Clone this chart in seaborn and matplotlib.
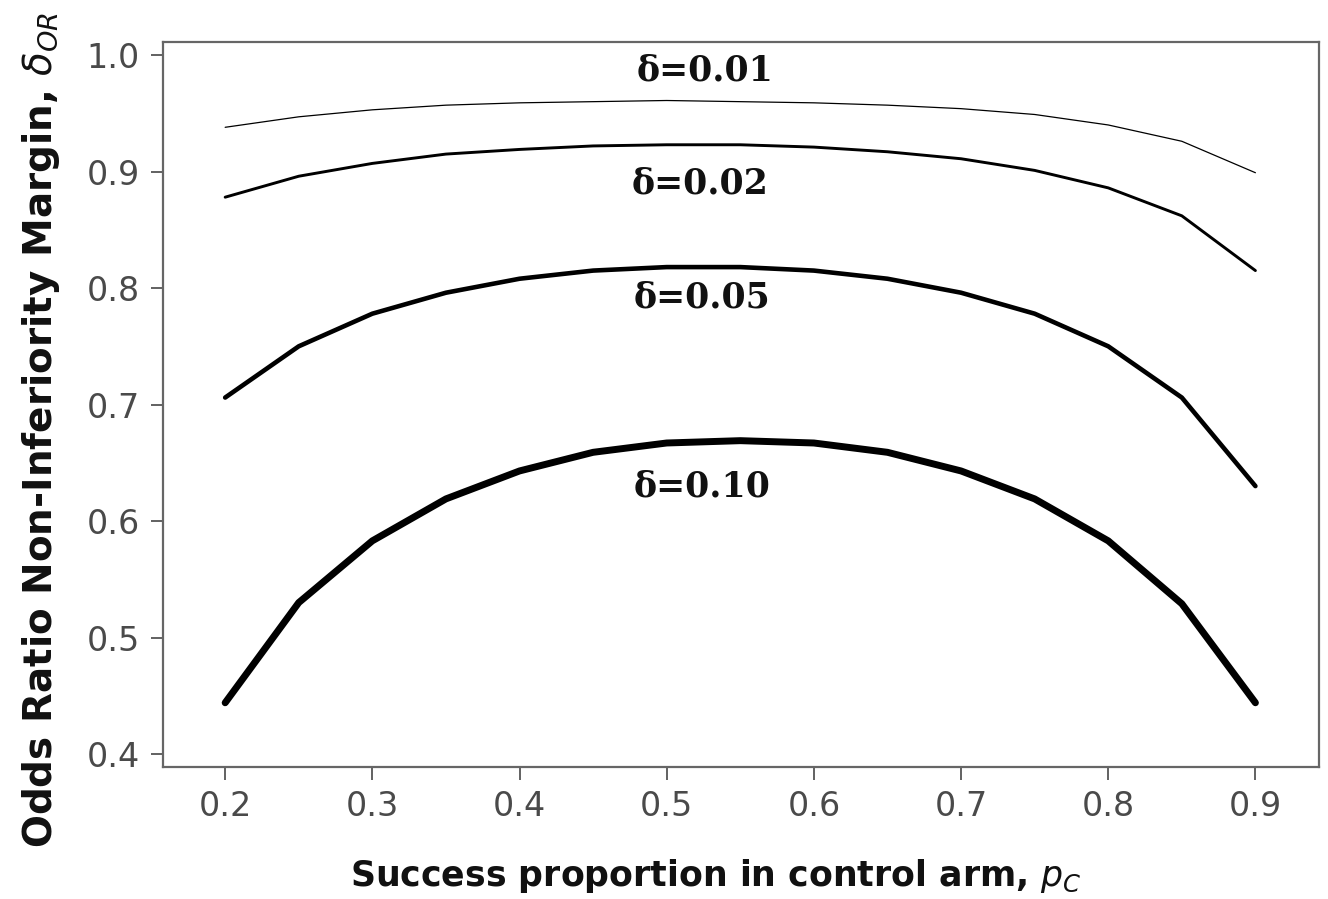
import numpy as np
import pandas as pd
import matplotlib
matplotlib.use("Agg")
import matplotlib.pyplot as plt
import seaborn as sns

# control-arm success proportion
p_c = [0.20, 0.25, 0.30, 0.35, 0.40, 0.45, 0.50, 0.55,
       0.60, 0.65, 0.70, 0.75, 0.80, 0.85, 0.90]

# odds ratio margins
or_d01 = [0.938, 0.947, 0.953, 0.957, 0.959, 0.960, 0.961, 0.960,
          0.959, 0.957, 0.954, 0.949, 0.940, 0.926, 0.899]
or_d02 = [0.878, 0.896, 0.907, 0.915, 0.919, 0.922, 0.923, 0.923,
          0.921, 0.917, 0.911, 0.901, 0.886, 0.862, 0.815]
or_d05 = [0.706, 0.750, 0.778, 0.796, 0.808, 0.815, 0.818, 0.818,
          0.815, 0.808, 0.796, 0.778, 0.750, 0.706, 0.630]
or_d10 = [0.444, 0.530, 0.583, 0.619, 0.643, 0.659, 0.667, 0.669,
          0.667, 0.659, 0.643, 0.619, 0.583, 0.529, 0.444]

deltas = ['δ=0.01', 'δ=0.02', 'δ=0.05', 'δ=0.10']
series = [or_d01, or_d02, or_d05, or_d10]

x_ticks = [0.2, 0.3, 0.4, 0.5, 0.6, 0.7, 0.8, 0.9]
y_ticks = [0.4, 0.5, 0.6, 0.7, 0.8, 0.9, 1.0]

df = pd.concat([pd.DataFrame({'p_c': p_c, 'margin': vals, 'delta': d})
                for d, vals in zip(deltas, series)], ignore_index=True)

sns.set_style('white')

fig = plt.figure(figsize=(13.28, 8.99), dpi=100)
ax = fig.add_axes([0.123, 0.147, 0.870, 0.806])

widths = {'δ=0.01': 0.9, 'δ=0.02': 2.1, 'δ=0.05': 3.3, 'δ=0.10': 5.0}
for d in deltas:
    sub = df[df['delta'] == d]
    sns.lineplot(data=sub, x='p_c', y='margin', ax=ax, color='black',
                 linewidth=widths[d], legend=False)

# curve labels
label_pos = {'δ=0.01': (0.526, 0.987), 'δ=0.02': (0.523, 0.890),
             'δ=0.05': (0.524, 0.792), 'δ=0.10': (0.524, 0.630)}
for d in deltas:
    lx, ly = label_pos[d]
    ax.text(lx, ly, d, ha='center', va='center', fontsize=25,
            fontweight='bold', family='DejaVu Serif', color='#111111')

ax.set_xlim(0.158, 0.943)
ax.set_ylim(0.389, 1.011)
ax.set_xticks(x_ticks)
ax.set_yticks(y_ticks)
ax.set_xticklabels([f'{t:.1f}' for t in x_ticks])
ax.set_yticklabels([f'{t:.1f}' for t in y_ticks])
ax.tick_params(axis='both', direction='out', length=9, width=1.3,
               color='#555555', labelsize=24, labelcolor='#4a4a4a', pad=8,
               bottom=True, left=True)

for s in ax.spines.values():
    s.set_visible(True)
    s.set_color('#666666')
    s.set_linewidth(1.6)

ax.set_xlabel(r'Success proportion in control arm, $p_C$', fontsize=25,
              fontweight='bold', color='#111111')
ax.set_ylabel(r'Odds Ratio Non-Inferiority Margin, $\delta_{OR}$',
              fontsize=28, fontweight='bold', color='#111111')
ax.xaxis.set_label_coords(0.478, -0.125)
ax.yaxis.set_label_coords(-0.088, 0.465)

plt.savefig('out.png', dpi=100)
